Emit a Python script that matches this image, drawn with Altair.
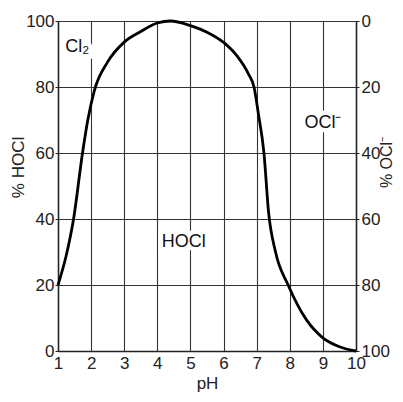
import altair as alt
import pandas as pd

ph = [1.0, 1.25, 1.47, 1.74, 1.9, 2.1, 2.5, 3.0, 3.5, 4.0, 4.4, 5.0, 5.5, 6.0, 6.4, 6.75,
      6.92, 7.05, 7.22, 7.36, 7.57, 7.95, 8.5, 9.0, 9.5, 10.0]
hocl = [20, 29, 40, 60, 70, 79, 87.6, 93.6, 96.8, 99.4, 100, 98.6, 96.6, 93.5, 89.5, 84,
        80, 72, 60, 42, 30, 20, 9.5, 4, 1.3, 0]

label_text = ["Cl₂", "HOCl", "OCl⁻"]
label_ph = [1.58, 4.8, 9.0]
label_val = [92, 33, 69]

x_ticks = list(range(1, 11))
y_ticks = [0, 20, 40, 60, 80, 100]

FONT = "Liberation Sans"
df = pd.DataFrame({"ph": ph, "hocl": hocl})
lab = pd.DataFrame({"t": label_text, "ph": label_ph, "v": label_val})

xscale = alt.Scale(domain=[1, 10], nice=False)
yscale = alt.Scale(domain=[0, 100], nice=False)

line = alt.Chart(df).mark_line(color="black", strokeWidth=2.8, interpolate="monotone").encode(
    x=alt.X("ph:Q", scale=xscale,
            axis=alt.Axis(values=x_ticks, title="pH", grid=True, gridColor="#333",
                          gridWidth=1.1, domainColor="#222", domainWidth=1.5,
                          ticks=False, labelPadding=4, labelFontSize=17,
                          labelColor="#222", titleFontSize=17, titleFontWeight="normal",
                          titleColor="#222", titlePadding=4, labelFlush=False,
                          labelFont=FONT, titleFont=FONT)),
    y=alt.Y("hocl:Q", scale=yscale,
            axis=alt.Axis(values=y_ticks, title="% HOCl", orient="left", grid=True,
                          gridColor="#333", gridWidth=1.1, domainColor="#222",
                          domainWidth=1.5, tickSize=3, tickColor="#222",
                          labelPadding=1, labelFontSize=17, labelColor="#222",
                          titleFontSize=17, titleFontWeight="normal", titleColor="#222",
                          titleBaseline="middle", titleX=-40, titleY=146,
                          labelFont=FONT, titleFont=FONT)),
)

right = alt.Chart(df).mark_line(opacity=0).encode(
    x=alt.X("ph:Q", scale=xscale, axis=None),
    y=alt.Y("hocl:Q", scale=yscale,
            axis=alt.Axis(values=y_ticks, title="% OCl⁻", orient="right", grid=False,
                          labelExpr="100 - datum.value", domainColor="#222",
                          domainWidth=1.5, tickSize=3, tickColor="#222",
                          labelPadding=2, labelFontSize=17, labelColor="#222",
                          titleFontSize=16, titleFontWeight="normal", titleColor="#222",
                          titleAngle=270, titleBaseline="middle", titleX=30, titleY=141,
                          labelFont=FONT, titleFont=FONT)),
)

halo = alt.Chart(lab).mark_text(font=FONT, fontSize=18, color="white", stroke="white",
                                strokeWidth=9).encode(
    x=alt.X("ph:Q", scale=xscale, axis=None),
    y=alt.Y("v:Q", scale=yscale, axis=None),
    text="t:N",
)
texts = alt.Chart(lab).mark_text(font=FONT, fontSize=18, color="#111").encode(
    x=alt.X("ph:Q", scale=xscale, axis=None),
    y=alt.Y("v:Q", scale=yscale, axis=None),
    text="t:N",
)

chart = alt.layer(line, right, halo, texts).resolve_axis(y="independent", x="independent").properties(
    width=298, height=330,
    autosize=alt.AutoSizeParams(type="none"),
    padding={"left": 50, "top": 13, "right": 39, "bottom": 43},
).configure_view(stroke="#222", strokeWidth=1.5).configure(background="white")

chart.save("out.html", embed_options={"renderer": "svg", "actions": False})
